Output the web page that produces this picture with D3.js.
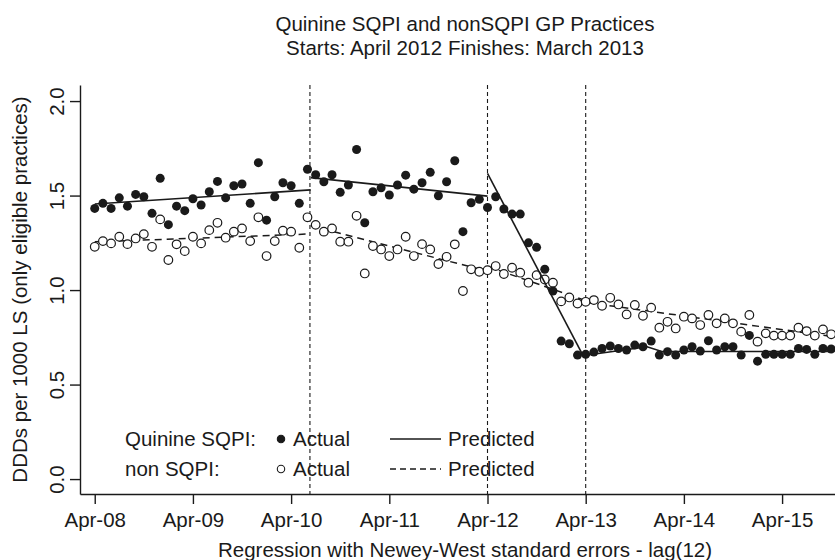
<!DOCTYPE html>
<html>
<head>
<meta charset="utf-8">
<script src="https://cdn.jsdelivr.net/npm/d3@7/dist/d3.min.js"></script>
<style>
body{margin:0;background:#fff;}
text{font-family:"Liberation Sans",Arial,sans-serif;fill:#1a1a1a;}
</style>
</head>
<body>
<div id="chart"></div>
<script>
/*Quinine SQPI vs nonSQPI practices - monthly DDDs, Apr-08 onwards*/
var tickLabels=["Apr-08","Apr-09","Apr-10","Apr-11","Apr-12","Apr-13","Apr-14","Apr-15"];
var yTicks=[0,0.5,1,1.5,2];

// monthly values, index 0 = Apr-08
var sqpi=[1.432,1.459,1.432,1.488,1.444,1.506,1.494,1.406,1.591,1.346,
1.444,1.420,1.483,1.450,1.520,1.575,1.488,1.552,1.561,1.459,
1.674,1.370,1.494,1.568,1.552,1.459,1.639,1.610,1.573,1.610,
1.517,1.556,1.744,1.356,1.520,1.541,1.503,1.556,1.608,1.534,
1.568,1.623,1.499,1.573,1.684,1.309,1.462,1.480,1.437,1.494,
1.429,1.402,1.402,1.250,1.226,1.110,0.995,0.730,0.716,0.656,
0.660,0.672,0.691,0.704,0.691,0.683,0.709,0.700,0.730,0.656,
0.674,0.656,0.683,0.700,0.677,0.732,0.683,0.700,0.700,0.656,
0.760,0.624,0.660,0.660,0.660,0.660,0.691,0.686,0.660,0.691,0.688];

var nonSqpi=[1.229,1.259,1.247,1.282,1.243,1.273,1.296,1.229,1.374,1.159,
1.242,1.206,1.282,1.247,1.317,1.356,1.277,1.309,1.326,1.259,
1.385,1.180,1.259,1.314,1.309,1.224,1.385,1.345,1.309,1.326,
1.256,1.256,1.393,1.088,1.233,1.215,1.180,1.215,1.282,1.180,
1.243,1.215,1.138,1.176,1.242,0.995,1.110,1.097,1.105,1.127,
1.085,1.118,1.092,1.039,1.079,1.056,1.039,0.940,0.961,0.929,
0.938,0.947,0.917,0.959,0.924,0.871,0.921,0.864,0.907,0.801,
0.832,0.797,0.859,0.850,0.815,0.868,0.824,0.850,0.824,0.780,
0.868,0.727,0.771,0.759,0.759,0.759,0.801,0.783,0.759,0.792,0.766];

// predicted segments [month,value]
var sqpiPred=[[[0,1.455],[26.4,1.530]],
[[26.4,1.595],[48,1.497]],
[[48,1.617],[59.6,0.660]],
[[60,0.655],[67.5,0.700],[69.3,0.675],[90,0.675]]];
var nonPred=[[[0,1.255],[26.4,1.297]],
[[26.4,1.340],[48,1.100]],
[[48,1.125],[59.6,0.950]],
[[60,0.935],[90,0.755]]];

var breaks=[26.3,48,60];

var margin={top:85,left:80},
w=770,h=409,fs="20.5px";

var svg=d3.select("#chart").append("svg")
.attr("width",835).attr("height",560)
.style("display","block");

var g=svg.append("g").attr("transform",`translate(${margin.left},${margin.top})`);

var xScale=d3.scaleLinear().domain([-1.8,92.3]).range([0,w]);
var yScale=d3.scaleLinear().domain([-0.079,2.085]).range([h,0]);

// axes
var xAxis=g.append("g").attr("transform","translate(0,"+h+")")
.call(d3.axisBottom(xScale).tickValues(tickLabels.map(function(d,i){return i*12;}))
.tickFormat(function(d,i){return tickLabels[i];}).tickSize(10).tickPadding(8).tickSizeOuter(0));
xAxis.selectAll("text").style("font-size",fs);

var yAxis=g.append("g")
.call(d3.axisLeft(yScale).tickValues(yTicks).tickFormat(d3.format(".1f")).tickSize(10).tickSizeOuter(0));
yAxis.selectAll("text")
.attr("transform","rotate(-90)")
.attr("x",0).attr("y",-24).attr("dy",null)
.attr("dominant-baseline","central")
.style("text-anchor","middle").style("font-size",fs);
g.selectAll(".domain,.tick line").attr("stroke","#1a1a1a").attr("stroke-width",1.4);
g.selectAll(".tick text").attr("fill","#1a1a1a");

// break lines
g.selectAll(".brk").data(breaks).enter().append("line")
.attr("x1",function(d){return xScale(d);}).attr("x2",function(d){return xScale(d);})
.attr("y1",0).attr("y2",h)
.attr("stroke","#1a1a1a").attr("stroke-width",1.1).attr("stroke-dasharray","4,3");

var line=d3.line().x(function(d){return xScale(d[0]);}).y(function(d){return yScale(d[1]);});

g.selectAll(".npred").data(nonPred).enter().append("path")
.attr("d",line).attr("fill","none").attr("stroke","#1a1a1a")
.attr("stroke-width",1.5).attr("stroke-dasharray","7,5");

g.selectAll(".open").data(nonSqpi).enter().append("circle")
.attr("cx",function(d,i){return xScale(i);}).attr("cy",function(d){return yScale(d);})
.attr("r",4.3).attr("fill","#fff").attr("stroke","#1a1a1a").attr("stroke-width",1.2);

g.selectAll(".spred").data(sqpiPred).enter().append("path")
.attr("d",line).attr("fill","none").attr("stroke","#1a1a1a").attr("stroke-width",1.6);

g.selectAll(".filled").data(sqpi).enter().append("circle")
.attr("cx",function(d,i){return xScale(i);}).attr("cy",function(d){return yScale(d);})
.attr("r",4.5).attr("fill","#1a1a1a");

// titles
svg.append("text").attr("x",465).attr("y",31).style("text-anchor","middle").style("font-size",fs)
.text("Quinine SQPI and nonSQPI GP Practices");
svg.append("text").attr("x",465).attr("y",55).style("text-anchor","middle").style("font-size",fs)
.text("Starts: April 2012 Finishes: March 2013");
svg.append("text").attr("x",465).attr("y",557).style("text-anchor","middle").style("font-size",fs)
.text("Regression with Newey-West standard errors - lag(12)");
svg.append("text").attr("transform","translate(19,"+(margin.top+h/2)+")rotate(-90)")
.attr("dominant-baseline","central").style("text-anchor","middle").style("font-size",fs)
.text("DDDs per 1000 LS (only eligible practices)");

// legend
var leg=svg.append("g");
var rows=[{name:"Quinine SQPI:",y:439,filled:true,dash:null},
{name:"non SQPI:",y:469,filled:false,dash:"6,4"}];
rows.forEach(function(r){
leg.append("text").attr("x",125).attr("y",r.y+7).style("font-size",fs).text(r.name);
leg.append("circle").attr("cx",281).attr("cy",r.y).attr("r",3.7)
.attr("fill",r.filled?"#1a1a1a":"#fff").attr("stroke","#1a1a1a").attr("stroke-width",1.1);
leg.append("text").attr("x",293).attr("y",r.y+7).style("font-size",fs).text("Actual");
leg.append("line").attr("x1",390).attr("x2",441).attr("y1",r.y).attr("y2",r.y)
.attr("stroke","#1a1a1a").attr("stroke-width",1.3).attr("stroke-dasharray",r.dash);
leg.append("text").attr("x",448).attr("y",r.y+7).style("font-size",fs).text("Predicted");
});
</script>
</body>
</html>
